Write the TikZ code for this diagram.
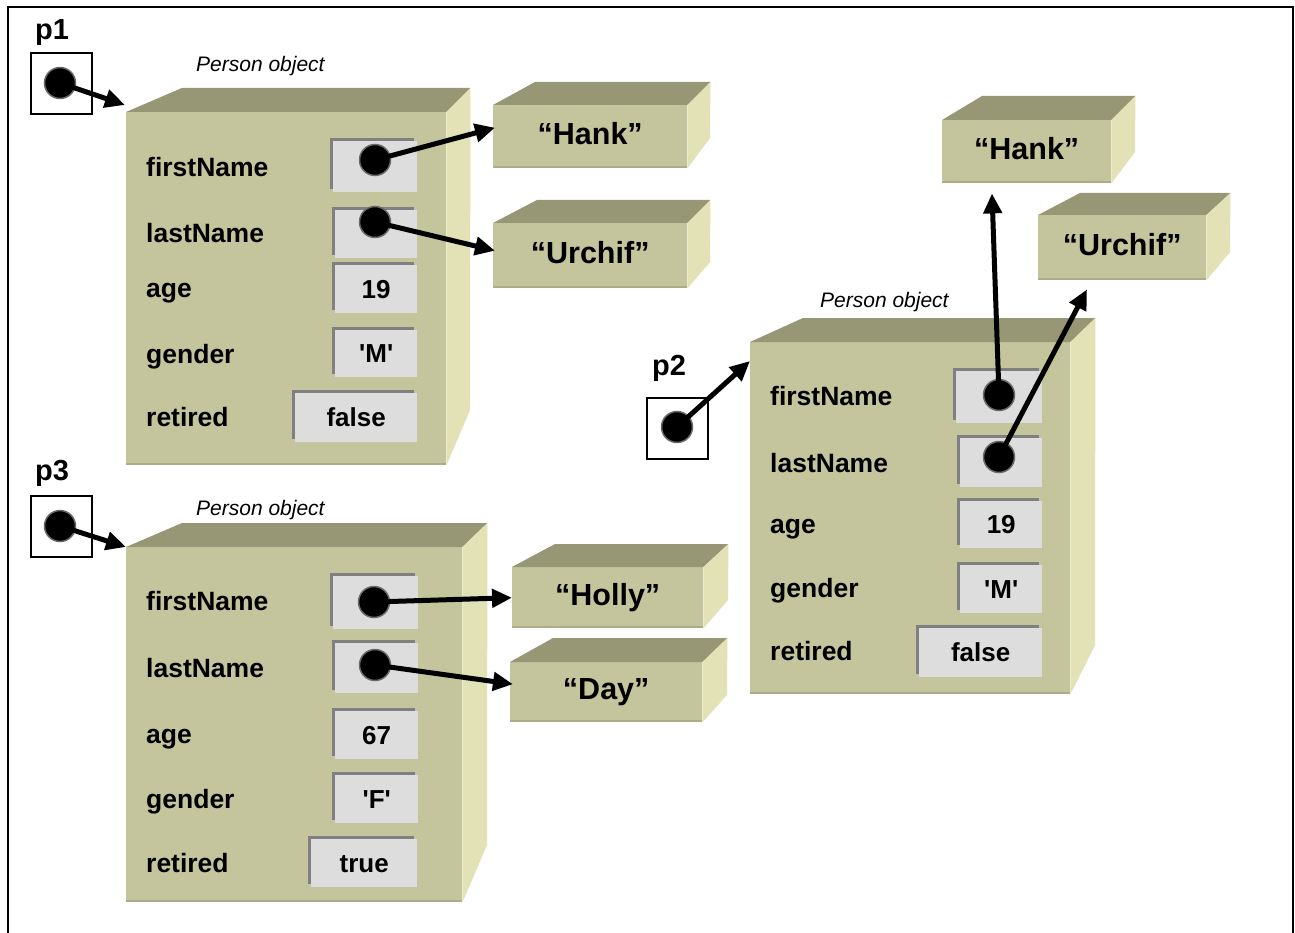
\documentclass[tikz,border=0pt]{standalone}
\usepackage{fontspec}
\setmainfont{Liberation Sans}[Ligatures=TeXOff]
\usetikzlibrary{arrows.meta,calc,shadows}

\definecolor{faceFront}{RGB}{196,196,157}
\definecolor{faceTop}{RGB}{151,151,118}
\definecolor{faceSide}{RGB}{226,226,182}
\definecolor{faceEdge}{RGB}{172,172,134}
\definecolor{fieldFill}{RGB}{221,221,221}
\definecolor{fieldEdge}{RGB}{128,128,128}
\definecolor{fieldLight}{RGB}{242,242,242}
\definecolor{dotRing}{RGB}{105,105,105}

\tikzset{
  front/.style={fill=faceFront, draw=none, inner sep=0pt, anchor=north west},
  strtext/.style={font=\fontsize{30.5}{30.5}\selectfont\bfseries, inner sep=0pt,
    text height=21pt, text depth=6pt},
  field/.style={fill=fieldFill, inner sep=0pt, anchor=north west,
    general shadow={fill=fieldEdge, shadow xshift=-3pt, shadow yshift=3pt},
    font=\fontsize{26}{26}\selectfont\bfseries,
    text height=18.5pt, text depth=0pt,
    append after command={
      \pgfextra{\draw[fieldLight, line width=2pt]
        ([shift={(1pt,1pt)}]\tikzlastnode.south west)
        -- ([shift={(-1pt,1pt)}]\tikzlastnode.south east)
        -- ([shift={(-1pt,-1pt)}]\tikzlastnode.north east);}}},
  dot/.style={circle, fill=black, draw=dotRing, line width=1.5pt,
    minimum size=31pt, inner sep=0pt},
  ptr/.style={line width=5pt, -{Triangle[length=20pt,width=18pt]}},
  lbl/.style={anchor=base west, inner sep=0pt,
    font=\fontsize{26.5}{26.5}\selectfont\bfseries},
  varname/.style={anchor=base west, inner sep=0pt,
    font=\fontsize{29}{29}\selectfont\bfseries},
  caption/.style={anchor=base west, inner sep=0pt,
    font=\fontsize{21}{21}\selectfont\itshape},
  refbox/.style={draw=black, line width=2pt, anchor=north west,
    inner sep=0pt, minimum width=61pt, minimum height=61pt}
}

% 3D slab: name, x1, y1, x2, y2, left depth shift, right depth shift, depth, y where the side bevels
\newcommand\slab[9]{%
  \node[front, minimum width={(#4-#2)*1pt}, minimum height={(#5-#3)*1pt}] (#1) at (#2,#3) {};
  \fill[faceTop] (#1.north west) -- ++(#6,-#8) -- ($(#1.north east)+(#7,-#8)$)
    -- (#1.north east) -- cycle;
  \fill[faceSide] (#1.north east) -- ++(#7,-#8) -- (#4+#7,#9) -- (#1.south east) -- cycle;
  \draw[faceEdge, line width=2pt] ([yshift=1pt]#1.south west) -- ([yshift=1pt]#1.south east);
}
% field cell: name, x1, y1, x2, y2, text
\newcommand\fieldbox[6]{%
  \node[field, minimum width={(#4-#2)*1pt}, minimum height={(#5-#3)*1pt}] (#1) at (#2,#3) {#6};
}

\begin{document}
\begin{tikzpicture}[x=1pt,y=-1pt]
\useasboundingbox (0,0) rectangle (1295,933);
\fill[white] (0,0) rectangle (1295,933);
\draw[line width=2pt] (8,960) -- (8,7) -- (1293,7) -- (1293,960);

% ---------- p1 ----------
\node[varname] (p1name) at (35,40) {p1};
\node[refbox] (p1box) at (30,52) {};
\node[dot] (p1dot) at (60,83) {};
\node[caption] (cap1) at (196,72) {Person object};
\slab{obj1}{126}{112}{446}{465}{56}{24}{24}{410}
\node[lbl] (o1a) at (146,177) {firstName};
\node[lbl] (o1b) at (146,243) {lastName};
\node[lbl] (o1c) at (146,298) {age};
\node[lbl] (o1d) at (146,363) {gender};
\node[lbl] (o1e) at (146,426) {retired};
\fieldbox{f1a}{333}{141}{417}{192}{}
\fieldbox{f1b}{335}{210}{417}{258}{}
\fieldbox{f1c}{335}{265}{417}{313}{19}
\fieldbox{f1d}{335}{330}{417}{377}{'M'}
\fieldbox{f1e}{295}{393}{417}{442}{false}
\node[dot] (d1a) at (375,160) {};
\node[dot] (d1b) at (375,222) {};

\slab{h1}{493}{105}{687}{168}{42}{23}{23}{138}
\node[strtext] (h1t) at (h1.center) {“Hank”};
\slab{u1}{493}{223}{687}{288}{44}{23}{23}{262}
\node[strtext] (u1t) at (u1.center) {“Urchif”};

% ---------- p2 ----------
\node[varname] (p2name) at (652,375) {p2};
\node[refbox] (p2box) at (646,397) {};
\node[dot] (p2dot) at (677,427) {};
\node[caption] (cap2) at (820,307) {Person object};
\slab{obj2}{750}{342}{1070}{694}{53}{25}{24}{645}
\node[lbl] (o2a) at (770,405) {firstName};
\node[lbl] (o2b) at (770,472) {lastName};
\node[lbl] (o2c) at (770,533) {age};
\node[lbl] (o2d) at (770,597) {gender};
\node[lbl] (o2e) at (770,660) {retired};
\fieldbox{f2a}{956}{371}{1042}{423}{}
\fieldbox{f2b}{960}{438}{1042}{487}{}
\fieldbox{f2c}{960}{501}{1042}{548}{19}
\fieldbox{f2d}{960}{565}{1042}{613}{'M'}
\fieldbox{f2e}{919}{628}{1042}{677}{false}
\node[dot] (d2a) at (999,395) {};
\node[dot] (d2b) at (999,457) {};

\slab{h2}{942}{120}{1111}{183}{40}{24}{24}{152}
\node[strtext] (h2t) at (h2.center) {“Hank”};
\slab{u2}{1038}{215}{1206}{280}{42}{24}{22}{252}
\node[strtext] (u2t) at (u2.center) {“Urchif”};

% ---------- p3 ----------
\node[varname] (p3name) at (35,480) {p3};
\node[refbox] (p3box) at (30,495) {};
\node[dot] (p3dot) at (60,526) {};
\node[caption] (cap3) at (196,515) {Person object};
\slab{obj3}{126}{547}{462}{902}{56}{25}{24}{845}
\node[lbl] (o3a) at (146,610) {firstName};
\node[lbl] (o3b) at (146,677) {lastName};
\node[lbl] (o3c) at (146,743) {age};
\node[lbl] (o3d) at (146,808) {gender};
\node[lbl] (o3e) at (146,872) {retired};
\fieldbox{f3a}{333}{576}{418}{629}{}
\fieldbox{f3b}{335}{643}{418}{693}{}
\fieldbox{f3c}{335}{711}{418}{759}{67}
\fieldbox{f3d}{335}{775}{418}{823}{'F'}
\fieldbox{f3e}{311}{839}{417}{887}{true}
\node[dot] (d3a) at (374,602) {};
\node[dot] (d3b) at (375,665) {};

\slab{ho}{512}{567}{703}{628}{43}{25}{23}{600}
\node[strtext] (hot) at (ho.center) {“Holly”};
\slab{dy}{510}{662}{702}{722}{43}{25}{24}{695}
\node[strtext] (dyt) at (dy.center) {“Day”};

% ---------- references ----------
\draw[ptr] (p1dot.center) -- ($(obj1.north west)+(-1,-7)$);
\draw[ptr] (d1a.center) -- ($(h1.west)+(2,-9)$);
\draw[ptr] (d1b.center) -- ($(u1.west)+(2,-5)$);

\draw[ptr] (p2dot.center) -- ($(obj2.north west)+(0,19)$);
\draw[ptr] (d2a.center) -- ($(h2.south west)+(50,10)$);
\draw[ptr] (d2b.center) -- ($(u2.south west)+(49,9)$);

\draw[ptr] (p3dot.center) -- (obj3.north west);
\draw[ptr] (d3a.center) -- (ho.west);
\draw[ptr] (d3b.center) -- ($(dy.west)+(3,-8)$);
\end{tikzpicture}
\end{document}
